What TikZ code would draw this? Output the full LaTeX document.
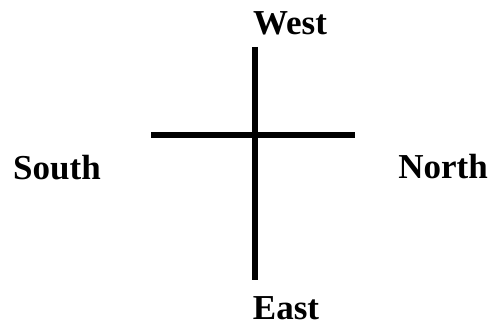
\documentclass[tikz,border=0pt]{standalone}
\usepackage{fontspec}
\setmainfont{Liberation Serif}
\begin{document}
\begin{tikzpicture}[x=1pt,y=-1pt,
  lbl/.style={font=\fontsize{35}{40}\selectfont\bfseries, inner sep=0pt, text depth=0pt, anchor=base},
  bar/.style={line width=6pt, black}]
\useasboundingbox (0,0) rectangle (493,328);
\coordinate (vtop) at (255,47);
\coordinate (vbot) at (255,280);
\coordinate (hleft) at (151,135);
\coordinate (hright) at (355,135);
\draw[bar] (vtop) -- (vbot);
\draw[bar] (hleft) -- (hright);
\node[lbl] (west) at (290,35) {West};
\node[lbl] (south) at (57,180) {South};
\node[lbl] (north) at (443,179) {North};
\node[lbl] (east) at (286,320) {East};
\end{tikzpicture}
\end{document}
